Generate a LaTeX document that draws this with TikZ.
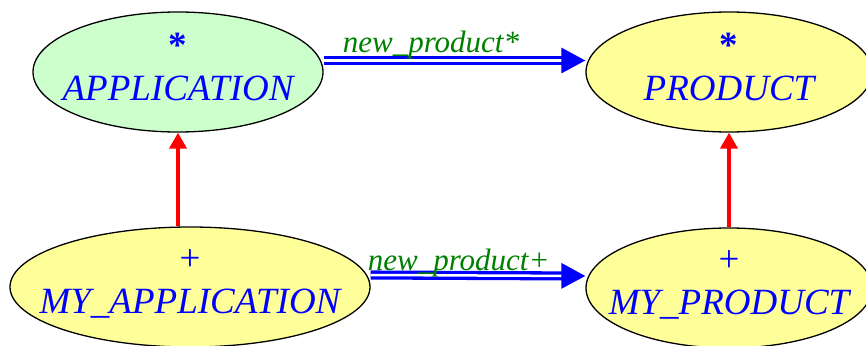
\documentclass[tikz,border=0pt]{standalone}
\usepackage{fontspec}
\setmainfont{Liberation Serif}
\usetikzlibrary{shapes.geometric,arrows.meta}
\definecolor{classgreen}{RGB}{204,255,204}
\definecolor{classyellow}{RGB}{255,255,153}
\definecolor{featuregreen}{RGB}{0,128,0}

\begin{document}
\begin{tikzpicture}[x=1pt,y=-1pt,
  class/.style={ellipse, draw=black, line width=1.3pt, inner xsep=-40pt, inner ysep=-10pt,
    minimum height=120pt, text=blue, align=center, text depth=10pt,
    font=\fontsize{37}{43}\selectfont\itshape},
  client/.style={draw=blue, line width=3.3pt, double=white, double distance=2.5pt,
    -{Triangle[length=24pt,width=25pt]}},
  heir/.style={draw=red, line width=4pt, -{Triangle[length=16pt,width=17pt]}},
  feature/.style={text=featuregreen, font=\fontsize{31}{36}\selectfont\itshape,
    anchor=base, inner sep=0pt}]

\useasboundingbox (0,0) rectangle (866,345);

% A. Classes, deferred ones on top, effective ones below
\node[class, fill=classgreen, minimum width=290pt] (app) at (178,72) {\textup{\bfseries *}\\APPLICATION};
\node[class, fill=classyellow, minimum width=286pt] (prod) at (729,72) {\textup{\bfseries *}\\PRODUCT};
\node[class, fill=classyellow, minimum width=360pt] (myapp) at (190,287) {\textup{+}\\MY\_APPLICATION};
\node[class, fill=classyellow, minimum width=286pt] (myprod) at (729,288) {\textup{+}\\MY\_PRODUCT};

% B. Inheritance
\draw[heir] (myapp.north -| app.south) -- (app.south);
\draw[heir] (myprod.north) -- (prod.south);

% C. Client links with their feature names
\draw[client] ([yshift=11.5pt]app.east) -- node[feature, pos=0.41, yshift=8pt] (newdeferred) {new\_product*} ([yshift=11.5pt]prod.west);
\draw[client] ([yshift=12pt]myapp.east) -- node[feature, pos=0.41, yshift=5pt] (neweffective) {new\_product+} ([yshift=12pt]myprod.west);

\end{tikzpicture}
\end{document}
